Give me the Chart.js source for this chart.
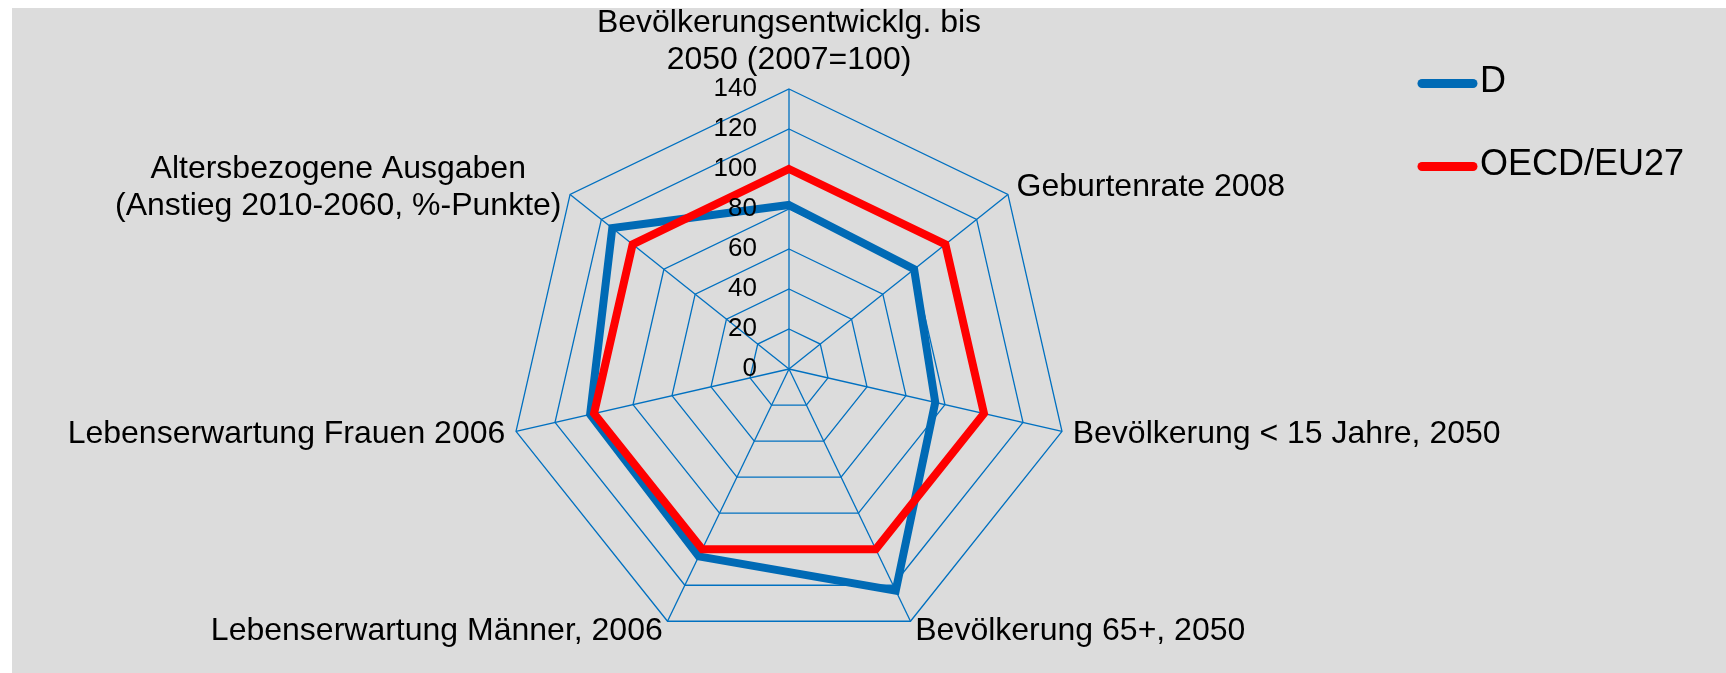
<!DOCTYPE html>
<html>
<head>
<meta charset="utf-8">
<script src="https://cdn.jsdelivr.net/npm/chart.js@4"></script>
<style>
  html, body { margin: 0; padding: 0; background: #fff; }
  #wrap { width: 1726px; height: 673px; }
</style>
</head>
<body>
<div id="wrap"><canvas id="chart" width="1726" height="673"></canvas></div>
<script>
const categories = [
  ['Bevölkerungsentwicklg. bis', '2050 (2007=100)'],
  'Geburtenrate 2008',
  'Bevölkerung < 15 Jahre, 2050',
  'Bevölkerung 65+, 2050',
  'Lebenserwartung Männer, 2006',
  'Lebenserwartung Frauen 2006',
  ['Altersbezogene Ausgaben', '(Anstieg 2010-2060, %-Punkte)']
]
const seriesNames = ['D', 'OECD/EU27']
const valuesD = [82, 80, 75, 123, 104, 102, 113]
const valuesOECD = [100, 100, 100, 100, 100, 100, 100]
const tickMin = 0
const tickMax = 140
const tickStep = 20

const FONT = '"Liberation Sans", Arial, sans-serif'
const GRID = '#0070C0'
const BLUE = '#006AB5'
const RED = '#FF0000'

const background = {
  id: 'background',
  beforeDraw (chart) {
    const ctx = chart.ctx
    ctx.save()
    ctx.fillStyle = '#DCDCDC'
    ctx.fillRect(12, 8, chart.width - 12, chart.height - 8)
    ctx.restore()
  }
}

// tick numbers, category labels and legend drawn like the Excel original
const radarText = {
  id: 'radarText',
  afterDraw (chart) {
    const scale = chart.scales.r
    const ctx = chart.ctx
    ctx.save()
    ctx.fillStyle = '#000'

    ctx.font = `26px ${FONT}`
    ctx.textAlign = 'right'
    ctx.textBaseline = 'middle'
    for (const tick of scale.ticks) {
      const y = scale.yCenter - scale.getDistanceFromCenterForValue(tick.value)
      ctx.fillText(String(tick.value), scale.xCenter - 32, y)
    }

    ctx.font = `32px ${FONT}`
    ctx.textAlign = 'center'
    const lineH = 36.7
    chart.data.labels.forEach((label, i) => {
      const lines = Array.isArray(label) ? label : [label]
      const pos = scale.getPointPosition(i, scale.drawingArea + 11)
      const w = Math.max(...lines.map(l => ctx.measureText(l).width))
      const dx = pos.x - scale.xCenter
      let cx = pos.x
      if (dx > 1) cx = pos.x + w / 2
      else if (dx < -1) cx = pos.x - w / 2
      if (Math.abs(dx) <= 1) {
        ctx.textBaseline = 'alphabetic'
        const last = pos.y - 9
        lines.forEach((l, k) => ctx.fillText(l, cx, last - (lines.length - 1 - k) * lineH))
      } else {
        ctx.textBaseline = 'middle'
        const first = pos.y - (lines.length - 1) * lineH / 2
        lines.forEach((l, k) => ctx.fillText(l, cx, first + k * lineH))
      }
    })

    // legend
    const legendY = [83.5, 166.5]
    ctx.font = `36px ${FONT}`
    ctx.textAlign = 'left'
    ctx.textBaseline = 'middle'
    ctx.lineCap = 'round'
    ctx.lineWidth = 9
    chart.data.datasets.forEach((ds, i) => {
      ctx.strokeStyle = ds.borderColor
      ctx.beginPath()
      ctx.moveTo(1422, legendY[i])
      ctx.lineTo(1473, legendY[i])
      ctx.stroke()
      ctx.fillText(ds.label, 1480, legendY[i] - 1)
    })
    ctx.restore()
  }
}

new Chart(document.getElementById('chart'), {
  type: 'radar',
  data: {
    labels: categories,
    datasets: [
      {
        label: seriesNames[0],
        data: valuesD,
        borderColor: BLUE,
        borderWidth: 8,
        pointRadius: 0,
        fill: false,
        borderJoinStyle: 'miter',
        order: 1
      },
      {
        label: seriesNames[1],
        data: valuesOECD,
        borderColor: RED,
        borderWidth: 8,
        pointRadius: 0,
        fill: false,
        borderJoinStyle: 'miter',
        order: 0
      }
    ]
  },
  options: {
    responsive: false,
    animation: false,
    layout: { padding: { top: 89, bottom: 24, left: 0, right: 148 } },
    plugins: {
      legend: { display: false },
      tooltip: { enabled: false }
    },
    scales: {
      r: {
        min: tickMin,
        max: tickMax,
        ticks: { stepSize: tickStep, display: false },
        pointLabels: { display: false },
        grid: { circular: false, color: GRID, lineWidth: 1.3 },
        angleLines: { color: GRID, lineWidth: 1.3 }
      }
    }
  },
  plugins: [background, radarText]
})
</script>
</body>
</html>
